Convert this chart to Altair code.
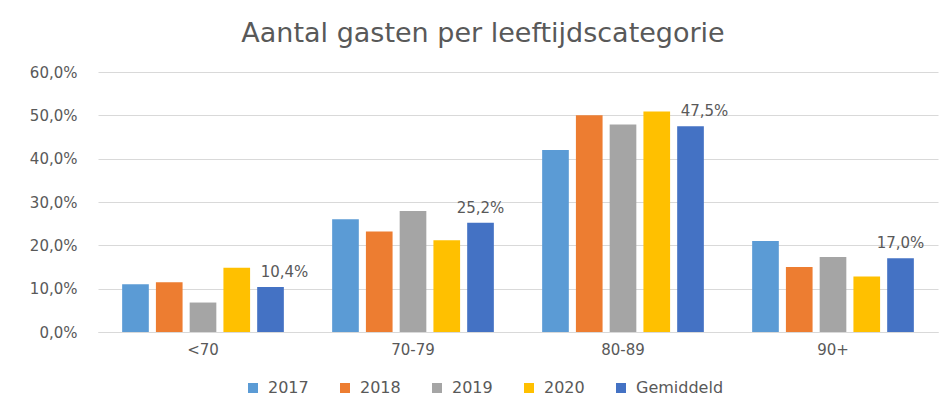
import altair as alt
import pandas as pd

categories = ["<70", "70-79", "80-89", "90+"]
series = ["2017", "2018", "2019", "2020", "Gemiddeld"]
colors = ["#5B9BD5", "#ED7D31", "#A5A5A5", "#FFC000", "#4472C4"]

v2017 = [0.110, 0.260, 0.420, 0.210]
v2018 = [0.115, 0.232, 0.500, 0.150]
v2019 = [0.068, 0.279, 0.479, 0.173]
v2020 = [0.148, 0.212, 0.509, 0.128]
vgem = [0.104, 0.252, 0.475, 0.170]

values = [v2017, v2018, v2019, v2020, vgem]
rows = []
for s, vals in zip(series, values):
    for c, v in zip(categories, vals):
        rows.append({"cat": c, "serie": s, "val": v})
df = pd.DataFrame(rows)

FONT = "DejaVu Sans"
GREY = "#595959"

x = alt.X("cat:N", sort=categories, title=None,
          scale=alt.Scale(paddingInner=0.23, paddingOuter=0.115),
          axis=alt.Axis(labelAngle=0, ticks=False, grid=False, domainColor="#D9D9D9",
                        labelFontSize=15, labelColor=GREY, labelFont=FONT,
                        labelPadding=10))
xoff = alt.XOffset("serie:N", sort=series,
                   scale=alt.Scale(paddingInner=0.21, paddingOuter=0))
y = alt.Y("val:Q", title=None,
          scale=alt.Scale(domain=[0, 0.6]),
          axis=alt.Axis(values=[0, 0.1, 0.2, 0.3, 0.4, 0.5, 0.6],
                        labelExpr="replace(format(datum.value, '.1%'), '.', ',')",
                        domain=False, ticks=False, grid=True, gridColor="#D9D9D9",
                        labelFontSize=15, labelColor=GREY, labelFont=FONT,
                        labelPadding=21))
color = alt.Color("serie:N", sort=series,
                  scale=alt.Scale(domain=series, range=colors),
                  legend=alt.Legend(title=None, orient="none", direction="horizontal",
                                    legendX=147, legendY=308,
                                    symbolType="square", symbolSize=100,
                                    symbolStrokeWidth=0, labelFontSize=16,
                                    labelColor=GREY, labelFont=FONT,
                                    labelOffset=7, columnPadding=28))

base = alt.Chart(df)
bars = base.mark_bar().encode(x=x, xOffset=xoff, y=y, color=color)

lab_base = base.transform_filter(alt.datum.serie == "Gemiddeld").transform_calculate(
    lbl="replace(format(datum.val, '.1%'), '.', ',')")
lab_shift = lab_base.transform_filter(
    alt.FieldOneOfPredicate(field="cat", oneOf=["<70", "80-89"])
).mark_text(baseline="bottom", dy=-7, dx=14, fontSize=15, color=GREY, font=FONT).encode(
    x=x, xOffset=xoff, y=y, text="lbl:N")
lab_center = lab_base.transform_filter(
    alt.FieldOneOfPredicate(field="cat", oneOf=["70-79", "90+"])
).mark_text(baseline="bottom", dy=-7, fontSize=15, color=GREY, font=FONT).encode(
    x=x, xOffset=xoff, y=y, text="lbl:N")

chart = alt.layer(bars, lab_shift, lab_center).properties(
    width=840, height=260,
    title=alt.TitleParams("Aantal gasten per leeftijdscategorie", fontSize=27,
                          font=FONT, color=GREY, fontWeight="normal",
                          anchor="middle", dx=-35, offset=17),
    autosize=alt.AutoSizeParams(type="none"),
    padding={"left": 90, "top": 64, "right": 3, "bottom": 66},
).configure_view(stroke=None)

chart.save("out.html", embed_options={"renderer": "svg", "actions": False})
